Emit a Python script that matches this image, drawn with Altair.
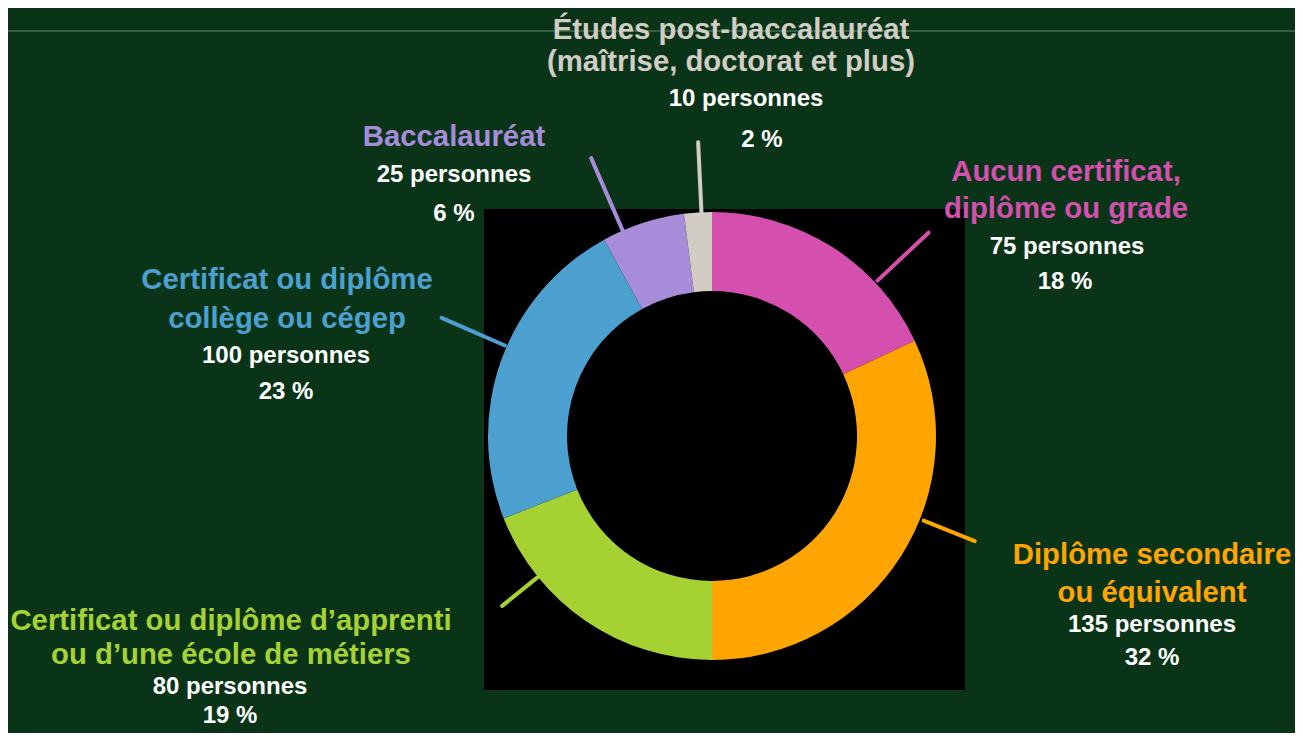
import altair as alt
import pandas as pd

# ---------------- data ----------------
categories = [
    "Aucun certificat, diplôme ou grade",
    "Diplôme secondaire ou équivalent",
    "Certificat ou diplôme d’apprenti ou d’une école de métiers",
    "Certificat ou diplôme collège ou cégep",
    "Baccalauréat",
    "Études post-baccalauréat (maîtrise, doctorat et plus)",
]
title_lines = [
    ["Aucun certificat,", "diplôme ou grade"],
    ["Diplôme secondaire", "ou équivalent"],
    ["Certificat ou diplôme d’apprenti", "ou d’une école de métiers"],
    ["Certificat ou diplôme", "collège ou cégep"],
    ["Baccalauréat"],
    ["Études post-baccalauréat", "(maîtrise, doctorat et plus)"],
]
persons = [75, 135, 80, 100, 25, 10]
percents = [18, 32, 19, 23, 6, 2]

# ---------------- style ----------------
slice_colors = ["#D54FAE", "#FFA502", "#A6D133", "#4BA0D0", "#A78CDA", "#D1CDC5"]
BG = "#0A3418"
RULE_COLOR = "#5E8863"
FONT = "Liberation Sans"
TITLE_SIZE = 29.3
SUB_SIZE = 24

# ---------------- layout (page pixel coordinates) ----------------
MARGIN = 8
W, H = 1287, 725
CX, CY = 712, 436
R_OUT, R_IN = 224, 145
BOX = (484, 209, 965, 690)
RULE_Y = 31
leader_angle = [46.8, 111.8, 231.0, 293.6, 336.5, 357.3]
leader_r1 = [227, 228, 225, 226, 224, 223]
leader_r2 = [297, 283, 270, 295, 303, 294]
title_x = [1066, 1152, 231, 287, 454, 731]
title_y = [[172, 209], [555, 593], [621, 655], [280, 319], [137], [30, 62]]
count_x = [1067, 1152, 230, 286, 454, 746]
count_y = [247, 625, 687, 356, 175, 99]
pct_x = [1065, 1152, 230, 286, 454, 762]
pct_y = [282, 658, 716, 392, 214, 140]

# ---------------- tables ----------------
slices = pd.DataFrame({
    "cat": categories,
    "pct": percents,
    "idx": list(range(len(categories))),
})

leaders = pd.DataFrame({
    "angle": leader_angle,
    "r1": leader_r1,
    "r2": leader_r2,
    "color": slice_colors,
})

rows = []
for i in range(len(categories)):
    for j, line in enumerate(title_lines[i]):
        rows.append({"text": line, "x": title_x[i], "y": title_y[i][j],
                     "color": slice_colors[i], "size": TITLE_SIZE})
    rows.append({"text": f"{persons[i]} personnes", "x": count_x[i], "y": count_y[i],
                 "color": "#FFFFFF", "size": SUB_SIZE})
    rows.append({"text": f"{percents[i]} %", "x": pct_x[i], "y": pct_y[i],
                 "color": "#FFFFFF", "size": SUB_SIZE})
texts = pd.DataFrame(rows)

box = pd.DataFrame({"x1": [BOX[0]], "x2": [BOX[2]], "y1": [BOX[1]], "y2": [BOX[3]]})
topline = pd.DataFrame({"x1": [0], "x2": [1303], "y": [RULE_Y]})

xs = alt.Scale(domain=[MARGIN, MARGIN + W], zero=False, nice=False)
ys = alt.Scale(domain=[MARGIN, MARGIN + H], zero=False, nice=False, reverse=True)

rule_layer = alt.Chart(topline).mark_rule(color=RULE_COLOR, strokeWidth=1).encode(
    x=alt.X("x1:Q", scale=xs, axis=None),
    x2="x2:Q",
    y=alt.Y("y:Q", scale=ys, axis=None),
)

box_layer = alt.Chart(box).mark_rect(color="#000000").encode(
    x=alt.X("x1:Q", scale=xs, axis=None),
    x2="x2:Q",
    y=alt.Y("y1:Q", scale=ys, axis=None),
    y2="y2:Q",
)

arc_layer = alt.Chart(slices).mark_arc(outerRadius=R_OUT, innerRadius=R_IN).encode(
    theta=alt.Theta("pct:Q", stack=True),
    order=alt.Order("idx:Q"),
    color=alt.Color("cat:N", scale=alt.Scale(domain=categories, range=slice_colors), legend=None),
    x=alt.XDatum(CX, type="quantitative", scale=xs, axis=None),
    y=alt.YDatum(CY, type="quantitative", scale=ys, axis=None),
)

leader_layer = alt.Chart(leaders).transform_calculate(
    lx1=f"{CX} + datum.r1 * sin(datum.angle * PI / 180)",
    ly1=f"{CY} - datum.r1 * cos(datum.angle * PI / 180)",
    lx2=f"{CX} + datum.r2 * sin(datum.angle * PI / 180)",
    ly2=f"{CY} - datum.r2 * cos(datum.angle * PI / 180)",
).mark_rule(strokeWidth=4, strokeCap="round").encode(
    x=alt.X("lx1:Q", scale=xs, axis=None),
    x2="lx2:Q",
    y=alt.Y("ly1:Q", scale=ys, axis=None),
    y2="ly2:Q",
    color=alt.Color("color:N", scale=None),
)

text_layer = alt.Chart(texts).mark_text(
    font=FONT, fontWeight="bold", align="center", baseline="middle"
).encode(
    x=alt.X("x:Q", scale=xs, axis=None),
    y=alt.Y("y:Q", scale=ys, axis=None),
    text="text:N",
    color=alt.Color("color:N", scale=None),
    size=alt.Size("size:Q", scale=None, legend=None),
)

chart = alt.layer(rule_layer, box_layer, arc_layer, leader_layer, text_layer).properties(
    width=W, height=H,
    autosize=alt.AutoSizeParams(type="none"),
    padding=0,
    background=BG,
).configure_view(stroke=None)

chart.save("out.html", embed_options={"renderer": "svg", "actions": False})
